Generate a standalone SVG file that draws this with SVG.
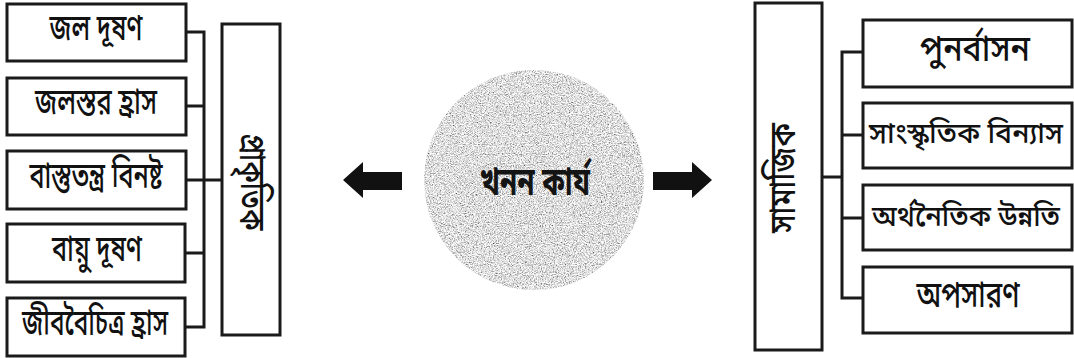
<svg xmlns="http://www.w3.org/2000/svg" width="1074" height="358" viewBox="0 0 1074 358">
<defs>
<style>
.box{fill:#fff;stroke:#1a1a1a;stroke-width:3}
.ln{fill:none;stroke:#1a1a1a;stroke-width:3}
.t{font-family:"Noto Sans Bengali","Noto Serif Bengali","Lohit Bengali","Noto Sans",sans-serif;font-size:36px;font-weight:500;fill:#111;text-anchor:middle;dominant-baseline:central}
.s{font-size:28px}
.big{font-family:"Noto Sans Bengali","Noto Serif Bengali","Lohit Bengali","Noto Sans",sans-serif;font-size:40px;font-weight:bold;fill:#141414;text-anchor:middle;dominant-baseline:central}
</style>
<filter id="noise" x="0" y="0" width="100%" height="100%">
<feTurbulence type="fractalNoise" baseFrequency="0.75 1.1" numOctaves="2" seed="5" result="n"/>
<feColorMatrix in="n" type="matrix" values="1.7 0 0 0 -0.12  1.7 0 0 0 -0.12  1.7 0 0 0 -0.12  0 0 0 0 1" result="g"/>
<feComposite in="g" in2="SourceGraphic" operator="in"/>
</filter>
</defs>
<rect width="1074" height="358" fill="#fff"/>

<g id="connectors">
<path class="ln" d="M186 32H204V327H186M186 106H204M186 180H222M186 253H204"/>
<path class="ln" d="M822 177H842M863 52H842V298H863M842 135H863M842 218H863"/>
<path id="arrow-left" d="M343 180L363 162V172H402V190H363V198Z" fill="#111"/>
<path id="arrow-right" d="M712 180L692 162V172H653V190H692V198Z" fill="#111"/>
</g>

<g id="center">
<circle cx="534" cy="180" r="110" fill="#b0b0b0" filter="url(#noise)"/>
<text class="big" x="535" y="184" textLength="110" lengthAdjust="spacingAndGlyphs">খনন কার্য</text>
</g>

<g id="n-prakritik">
<rect class="box" x="222" y="24" width="58" height="311"/>
<text class="t" transform="translate(249 182) rotate(90)" textLength="97" lengthAdjust="spacingAndGlyphs">প্রাকৃতিক</text>
</g>
<g id="n-jal-dushan">
<rect class="box" x="7" y="4" width="179" height="57"/>
<text class="t" x="96" y="31" textLength="93" lengthAdjust="spacingAndGlyphs">জল দূষণ</text>
</g>
<g id="n-jalastar">
<rect class="box" x="7" y="78" width="179" height="57"/>
<text class="t" x="96" y="105" textLength="122" lengthAdjust="spacingAndGlyphs">জলস্তর হ্রাস</text>
</g>
<g id="n-bastutantra">
<rect class="box" x="7" y="151" width="179" height="58"/>
<text class="t" x="96" y="179" textLength="133" lengthAdjust="spacingAndGlyphs">বাস্তুতন্ত্র বিনষ্ট</text>
</g>
<g id="n-bayu">
<rect class="box" x="7" y="224" width="178" height="58"/>
<text class="t" x="97" y="252" textLength="90" lengthAdjust="spacingAndGlyphs">বায়ু দূষণ</text>
</g>
<g id="n-jibbaichitra">
<rect class="box" x="7" y="298" width="178" height="58"/>
<text class="t" x="95" y="326" textLength="146" lengthAdjust="spacingAndGlyphs">জীববৈচিত্র হ্রাস</text>
</g>

<g id="n-samajik">
<rect class="box" x="755" y="3" width="67" height="347"/>
<text class="t" transform="translate(786 178) rotate(-90)" textLength="110" lengthAdjust="spacingAndGlyphs">সামাজিক</text>
</g>
<g id="n-punarbasan">
<rect class="box" x="863" y="20" width="209" height="67"/>
<text class="t" x="975" y="52" textLength="110" lengthAdjust="spacingAndGlyphs">পুনর্বাসন</text>
</g>
<g id="n-sanskritik">
<rect class="box" x="863" y="103" width="209" height="65"/>
<text class="t s" x="966" y="135" textLength="194" lengthAdjust="spacingAndGlyphs">সাংস্কৃতিক বিন্যাস</text>
</g>
<g id="n-arthanaitik">
<rect class="box" x="863" y="185" width="209" height="65"/>
<text class="t s" x="966" y="218" textLength="188" lengthAdjust="spacingAndGlyphs">অর্থনৈতিক উন্নতি</text>
</g>
<g id="n-apasaran">
<rect class="box" x="863" y="267" width="209" height="66"/>
<text class="t" x="968" y="298" textLength="103" lengthAdjust="spacingAndGlyphs">অপসারণ</text>
</g>
</svg>
